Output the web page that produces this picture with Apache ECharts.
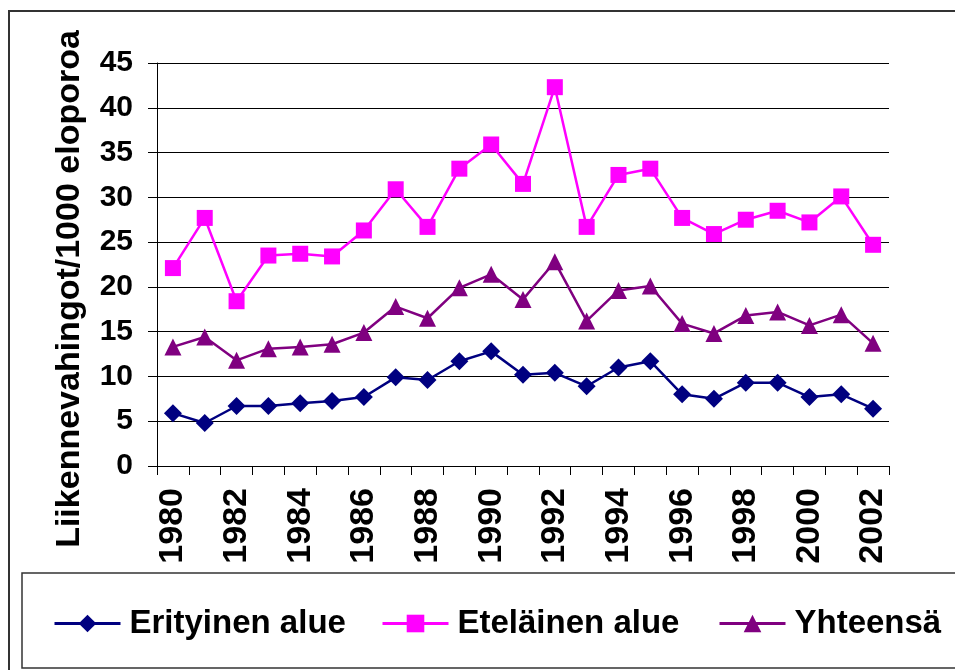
<!DOCTYPE html>
<html>
<head>
<meta charset="utf-8">
<script src="https://cdn.jsdelivr.net/npm/echarts@6/dist/echarts.min.js"></script>
<style>
    html, body { margin: 0; padding: 0; background: #fff; }
    #line { width: 955px; height: 670px; }
</style>
</head>
<body>
<div id="line"></div>
<script>
// data
const years = ['1980', '1981', '1982', '1983', '1984', '1985', '1986', '1987', '1988', '1989', '1990', '1991',
    '1992', '1993', '1994', '1995', '1996', '1997', '1998', '1999', '2000', '2001', '2002']
const erityinen = [5.9, 4.8, 6.7, 6.7, 7.0, 7.25, 7.7, 9.9, 9.6, 11.7, 12.8, 10.2,
    10.4, 8.9, 11.0, 11.7, 8.0, 7.5, 9.3, 9.3, 7.7, 8.0, 6.4]
const etelainen = [22.1, 27.7, 18.4, 23.5, 23.7, 23.4, 26.3, 30.9, 26.7, 33.2, 35.9, 31.5,
    42.3, 26.7, 32.5, 33.2, 27.7, 25.9, 27.5, 28.5, 27.2, 30.1, 24.7]
const yhteensa = [13.3, 14.4, 11.8, 13.1, 13.3, 13.6, 14.9, 17.8, 16.5, 19.9, 21.4, 18.6,
    22.8, 16.2, 19.6, 20.1, 15.9, 14.8, 16.8, 17.2, 15.7, 16.9, 13.7]
const seriesNames = ['Erityinen alue', 'Eteläinen alue', 'Yhteensä']

const font = 'Arial, "Liberation Sans", sans-serif'

const lineSeries = function(name, data, color, symbol, size) {
    return {
        name: name,
        type: 'line',
        data: data,
        symbol: symbol,
        symbolSize: size,
        color: color,
        lineStyle: { color: color, width: 2.5 },
        itemStyle: { color: color },
        animation: false,
    }
}

const legendFor = function(name, left) {
    return {
        data: [name],
        left: left,
        top: 602,
        itemWidth: 66,
        itemHeight: 22,
        lineStyle: { width: 3 },
        textStyle: {
            fontFamily: font,
            fontWeight: 'bold',
            fontSize: 33,
            color: '#000',
            padding: [0, 0, 0, 4],
        },
    }
}

const optionForLine = function() {
    const option = {
        backgroundColor: '#fff',
        grid: { left: 157, right: 66, top: 63, bottom: 204 },
        legend: [
            legendFor(seriesNames[0], 48),
            legendFor(seriesNames[1], 376),
            legendFor(seriesNames[2], 713),
        ],
        graphic: [
            {
                type: 'rect',
                shape: { x: 9, y: 11, width: 980, height: 700 },
                style: { fill: 'none', stroke: '#333', lineWidth: 2 },
                silent: true,
            },
            {
                type: 'rect',
                shape: { x: 22, y: 573, width: 980, height: 95 },
                style: { fill: '#fff', stroke: '#333', lineWidth: 1.5 },
                silent: true,
                z: -1,
            },
            {
                type: 'text',
                x: 70,
                y: 289,
                rotation: Math.PI / 2,
                style: {
                    text: 'Liikennevahingot/1000 eloporoa',
                    fontFamily: font,
                    fontWeight: 'bold',
                    fontSize: 34,
                    fill: '#000',
                    align: 'center',
                    verticalAlign: 'middle',
                },
            },
        ],
        xAxis: {
            type: 'category',
            data: years,
            boundaryGap: true,
            axisLine: { lineStyle: { color: '#000', width: 1 } },
            axisTick: { show: true, interval: 0, length: 9, lineStyle: { color: '#000' } },
            axisLabel: {
                interval: 1,
                rotate: 90,
                margin: 22,
                fontFamily: font,
                fontWeight: 'bold',
                fontSize: 34,
                color: '#000',
            },
            splitLine: { show: false },
        },
        yAxis: {
            type: 'value',
            min: 0,
            max: 45,
            interval: 5,
            axisLine: { show: true, lineStyle: { color: '#000', width: 1 } },
            axisTick: { show: true, length: 9, lineStyle: { color: '#000' } },
            axisLabel: {
                margin: 24,
                fontFamily: font,
                fontWeight: 'bold',
                fontSize: 30,
                color: '#000',
            },
            splitLine: { lineStyle: { color: '#000', width: 1 } },
        },
        series: [
            lineSeries(seriesNames[0], erityinen, '#000080', 'diamond', 18),
            lineSeries(seriesNames[1], etelainen, '#ff00ff', 'rect', 16),
            lineSeries(seriesNames[2], yhteensa, '#800080', 'triangle', 17),
        ],
    }
    return option
}

const __main = function() {
    const element = document.getElementById('line')
    const chart = echarts.init(element, null, { renderer: 'canvas' })
    chart.setOption(optionForLine())
}

__main()
</script>
</body>
</html>
